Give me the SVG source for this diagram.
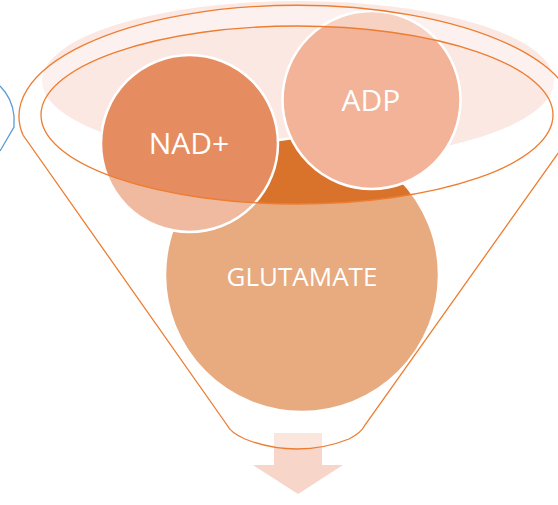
<svg xmlns="http://www.w3.org/2000/svg" width="558" height="505" viewBox="0 0 558 505">
  <style>
    .circle { stroke: #FFFFFF; stroke-width: 2.5; }
    .label { fill: #FFFFFF; font-family: "Open Sans", "Liberation Sans", sans-serif; text-anchor: middle; }
    .rim { fill: none; stroke: #ED7D31; stroke-width: 1.3; }
  </style>
  <rect width="558" height="505" fill="#FFFFFF"/>

  <!-- soft disc behind the funnel mouth -->
  <ellipse cx="298" cy="81" rx="256" ry="80" fill="#FBE8E3"/>

  <!-- output arrow under the funnel spout -->
  <polygon id="arrow" points="274,433 322,433 322,465 343,465 298,494 253,465 274,465" fill="#F8D5C9"/>

  <g id="glutamate">
    <circle class="circle" cx="302" cy="275" r="137" fill="#D9722B"/>
    <text class="label" x="302" y="286" font-size="26">GLUTAMATE</text>
  </g>
  <g id="nad">
    <circle class="circle" cx="189.5" cy="143.5" r="88.5" fill="#E58D61"/>
    <text class="label" x="189" y="154" font-size="30">NAD+</text>
  </g>
  <g id="adp">
    <circle class="circle" cx="371.5" cy="100" r="89" fill="#F2B398"/>
    <text class="label" x="371" y="111" font-size="30">ADP</text>
  </g>

  <!-- translucent funnel body (everything except the inner mouth) -->
  <path fill="#FFFFFF" fill-opacity="0.4" fill-rule="evenodd"
        d="M 23,135 A 278 111 0 1 1 571,135 L 365,425 Q 361,433 349,439 Q 324,449 297,449 Q 270,449 245,439 Q 231,433 227,425 Z
           M 41,115 A 256 89 0 1 0 553,115 A 256 89 0 1 0 41,115 Z"/>

  <g id="connectors">
    <!-- funnel outline -->
    <path class="rim" d="M 23,135 A 278 111 0 1 1 571,135 L 365,425 Q 361,433 349,439 Q 324,449 297,449 Q 270,449 245,439 Q 231,433 227,425 Z"/>
    <!-- funnel mouth -->
    <ellipse class="rim" cx="297" cy="115" rx="256" ry="89"/>
    <!-- partial shape at the left edge -->
    <path d="M 0,86 C 8,94 13,104 14,116 L 14,127 L 0,151" fill="none" stroke="#5B9BD5" stroke-width="1.3"/>
  </g>
</svg>
